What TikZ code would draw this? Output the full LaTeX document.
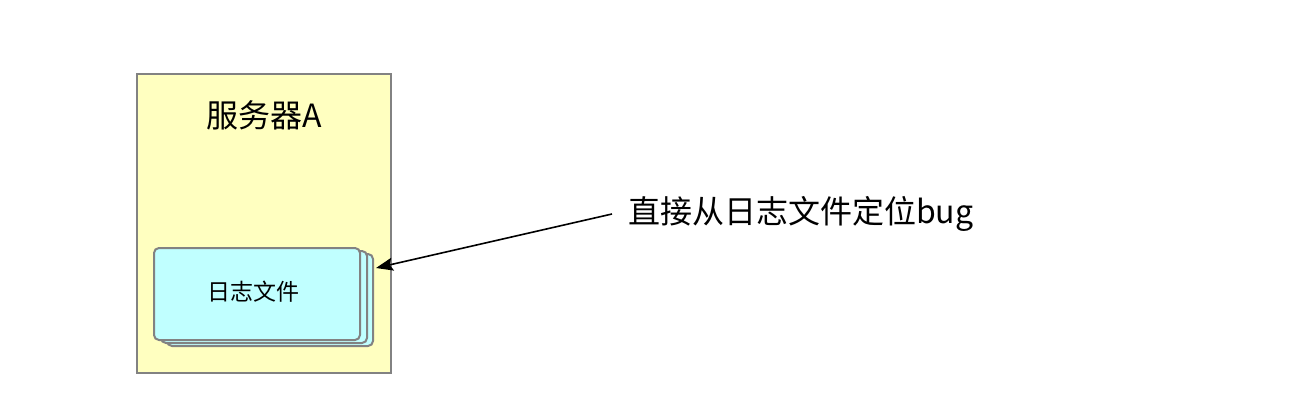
\documentclass[tikz,border=0pt]{standalone}
\usepackage{fontspec}
\setmainfont{Noto Sans CJK SC}
\usetikzlibrary{arrows.meta}
\definecolor{srvfill}{HTML}{FFFFC0}
\definecolor{cardfill}{HTML}{C0FFFF}
\definecolor{edge}{HTML}{828282}
\tikzset{
  server/.style={draw=edge, fill=srvfill, line width=1.6pt},
  card/.style={draw=edge, fill=cardfill, line width=2pt, rounded corners=5pt},
  lbl/.style={font=\fontsize{32}{36}\selectfont, inner sep=0pt},
  smalllbl/.style={font=\fontsize{23}{26}\selectfont, inner sep=0pt},
  conn/.style={line width=1.6pt, -{Stealth[length=17pt,width=13pt,inset=3pt]}}
}
\begin{document}
\begin{tikzpicture}[x=1pt,y=-1pt]
\useasboundingbox (0,0) rectangle (1290,404);
\fill[white] (0,0) rectangle (1290,404);
\draw[server] (137,74) rectangle (391,373);
\node[server, draw=none, fill=none, minimum width=254pt, minimum height=299pt, inner sep=0pt] (srv) at (264,223.5) {};
\node[lbl] (title) at (264,115) {服务器A};
\draw[card] (167,254) rectangle (373,346);
\draw[card] (161,251) rectangle (367,343);
\draw[card] (154,248) rectangle (360,340);
\node[minimum width=206pt, minimum height=92pt, inner sep=0pt] (card3) at (270,300) {};
\node[smalllbl] (file) at (253,292) {日志文件};
\node[lbl, anchor=west, inner xsep=16pt] (txt) at (612,214) {直接从日志文件定位bug};
\coordinate (tip) at (376,268);
\draw[conn] (txt.west) -- (tip);
\end{tikzpicture}
\end{document}
